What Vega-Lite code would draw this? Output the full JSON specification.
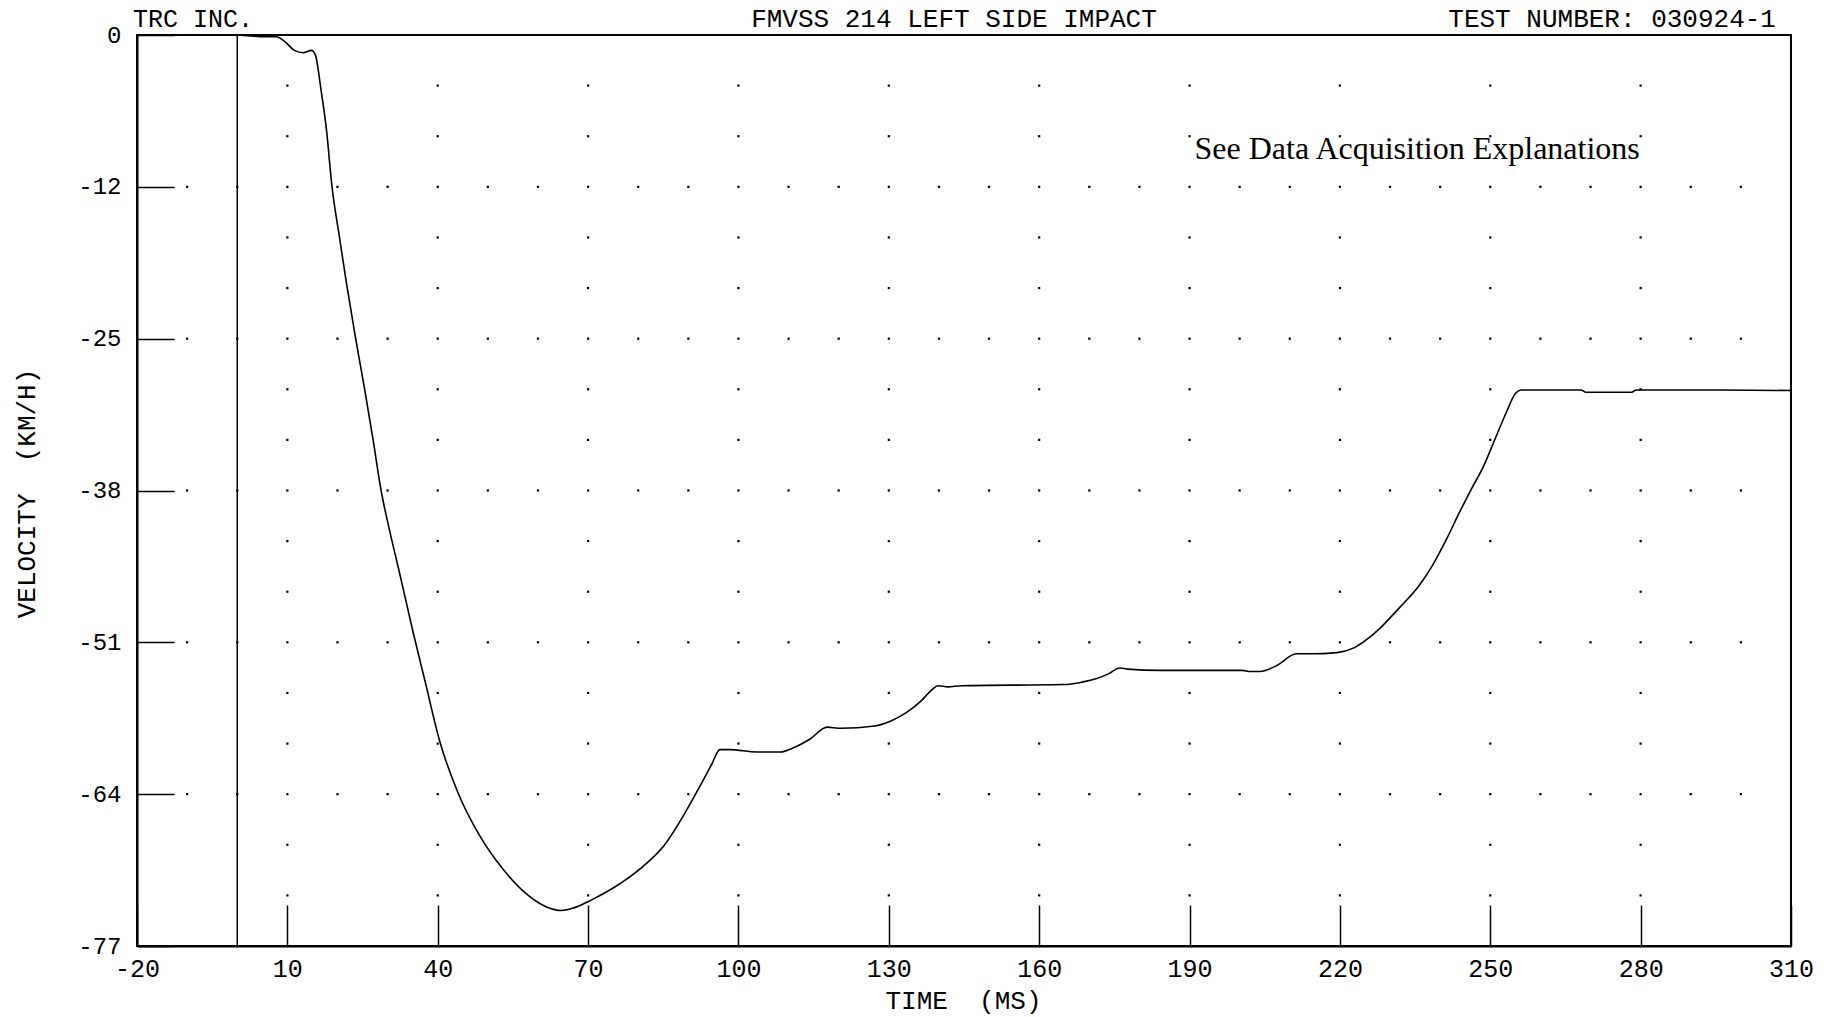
{
  "$schema": "https://vega.github.io/schema/vega-lite/v6.json",
  "width": 1654,
  "height": 911,
  "autosize": {"type": "none"},
  "padding": {"left": 137, "top": 35, "right": 50, "bottom": 71},
  "background": "white",
  "config": {
    "view": {"stroke": "black", "strokeWidth": 2},
    "font": "Liberation Mono"
  },
  "datasets": {
    "curve": [
      {"t": 0, "v": 0}, {"t": 3.3, "v": -0.1}, {"t": 5.1, "v": -0.15}, {"t": 7.8, "v": -0.15},
      {"t": 9.6, "v": -0.6}, {"t": 11.4, "v": -1.3}, {"t": 13.2, "v": -1.5}, {"t": 14.8, "v": -1.3},
      {"t": 15.6, "v": -1.7}, {"t": 16.7, "v": -4.6}, {"t": 17.8, "v": -8.0}, {"t": 18.9, "v": -12.8},
      {"t": 20.4, "v": -17.1}, {"t": 21.8, "v": -21.0}, {"t": 23.6, "v": -25.6}, {"t": 25.4, "v": -29.9},
      {"t": 27.1, "v": -34.2}, {"t": 28.7, "v": -38.5}, {"t": 30.3, "v": -41.7}, {"t": 32.4, "v": -45.5},
      {"t": 35.1, "v": -50.5}, {"t": 37.4, "v": -54.5}, {"t": 40.4, "v": -59.7}, {"t": 44.0, "v": -64.0},
      {"t": 48.4, "v": -67.7}, {"t": 53.0, "v": -70.5}, {"t": 57.7, "v": -72.6}, {"t": 61.7, "v": -73.7},
      {"t": 64.7, "v": -74.0}, {"t": 67.0, "v": -73.8}, {"t": 70.7, "v": -73.1}, {"t": 75.0, "v": -72.1},
      {"t": 80.3, "v": -70.5}, {"t": 85.0, "v": -68.6}, {"t": 89.0, "v": -66.0}, {"t": 92.3, "v": -63.5},
      {"t": 94.6, "v": -61.7}, {"t": 96.3, "v": -60.4}, {"t": 98.3, "v": -60.4}, {"t": 103.6, "v": -60.6},
      {"t": 108.3, "v": -60.6}, {"t": 111.2, "v": -60.2}, {"t": 114.3, "v": -59.5}, {"t": 117.7, "v": -58.5},
      {"t": 120.4, "v": -58.6}, {"t": 127.2, "v": -58.4}, {"t": 130.3, "v": -58.0}, {"t": 133.4, "v": -57.3},
      {"t": 136.4, "v": -56.3}, {"t": 138.7, "v": -55.3}, {"t": 139.8, "v": -55.0}, {"t": 141.8, "v": -55.1},
      {"t": 144.4, "v": -55.0}, {"t": 164.7, "v": -54.9}, {"t": 168.5, "v": -54.7}, {"t": 171.5, "v": -54.4},
      {"t": 173.8, "v": -54.0}, {"t": 176.1, "v": -53.5}, {"t": 177.7, "v": -53.6}, {"t": 184.0, "v": -53.7},
      {"t": 200.5, "v": -53.7}, {"t": 202.2, "v": -53.8}, {"t": 204.0, "v": -53.8}, {"t": 207.4, "v": -53.3},
      {"t": 211.3, "v": -52.3}, {"t": 214.2, "v": -52.3}, {"t": 219.4, "v": -52.2}, {"t": 222.8, "v": -51.8},
      {"t": 227.1, "v": -50.5}, {"t": 231.9, "v": -48.4}, {"t": 235.7, "v": -46.6}, {"t": 238.5, "v": -44.8},
      {"t": 241.4, "v": -42.5}, {"t": 243.8, "v": -40.4}, {"t": 246.2, "v": -38.4}, {"t": 248.6, "v": -36.5},
      {"t": 251.0, "v": -34.1}, {"t": 253.3, "v": -31.8}, {"t": 255.0, "v": -30.3}, {"t": 256.2, "v": -30.0},
      {"t": 268.1, "v": -30.0}, {"t": 269.1, "v": -30.2}, {"t": 278.2, "v": -30.2}, {"t": 279.1, "v": -30.0},
      {"t": 295.8, "v": -30.0}, {"t": 310, "v": -30.05}
    ],
    "major": [
      {"v": -12.8333, "t": [-10,0,10,20,30,40,50,60,70,80,90,100,110,120,130,140,150,160,170,180,190,200,210,220,230,240,250,260,270,280,290,300]},
      {"v": -25.6667, "t": [-10,0,10,20,30,40,50,60,70,80,90,100,110,120,130,140,150,160,170,180,190,200,210,220,230,240,250,260,270,280,290,300]},
      {"v": -38.5, "t": [-10,0,10,20,30,40,50,60,70,80,90,100,110,120,130,140,150,160,170,180,190,200,210,220,230,240,250,260,270,280,290,300]},
      {"v": -51.3333, "t": [-10,0,10,20,30,40,50,60,70,80,90,100,110,120,130,140,150,160,170,180,190,200,210,220,230,240,250,260,270,280,290,300]},
      {"v": -64.1667, "t": [-10,0,10,20,30,40,50,60,70,80,90,100,110,120,130,140,150,160,170,180,190,200,210,220,230,240,250,260,270,280,290,300]}
    ],
    "minor": [
      {"v": -4.2778, "t": [10,40,70,100,130,160,190,220,250,280]},
      {"v": -8.5556, "t": [10,40,70,100,130,160,190,220,250,280]},
      {"v": -17.1111, "t": [10,40,70,100,130,160,190,220,250,280]},
      {"v": -21.3889, "t": [10,40,70,100,130,160,190,220,250,280]},
      {"v": -29.9444, "t": [10,40,70,100,130,160,190,220,250,280]},
      {"v": -34.2222, "t": [10,40,70,100,130,160,190,220,250,280]},
      {"v": -42.7778, "t": [10,40,70,100,130,160,190,220,250,280]},
      {"v": -47.0556, "t": [10,40,70,100,130,160,190,220,250,280]},
      {"v": -55.6111, "t": [10,40,70,100,130,160,190,220,250,280]},
      {"v": -59.8889, "t": [10,40,70,100,130,160,190,220,250,280]},
      {"v": -68.4444, "t": [10,40,70,100,130,160,190,220,250,280]},
      {"v": -72.7222, "t": [10,40,70,100,130,160,190,220,250,280]}
    ]
  },
  "layer": [
    {
      "data": {"name": "curve"},
      "mark": {"type": "line", "color": "black", "strokeWidth": 1.6, "interpolate": "monotone"},
      "encoding": {
        "x": {
          "field": "t", "type": "quantitative",
          "scale": {"domain": [-20, 310], "nice": false, "zero": false},
          "axis": {
            "values": [-20,10,40,70,100,130,160,190,220,250,280,310],
            "labelExpr": "datum.value < 0 ? '-' + (-datum.value) : '' + datum.value",
            "grid": false,
            "tickSize": -41, "tickColor": "black", "tickWidth": 1.5,
            "domainColor": "black", "domainWidth": 2,
            "labelFont": "Liberation Mono", "labelFontSize": 25, "labelColor": "black",
            "labelPadding": 51, "labelFlush": false, "labelOverlap": false,
            "title": "TIME\u00a0\u00a0(MS)", "titleFont": "Liberation Mono", "titleFontSize": 26,
            "titleFontWeight": "normal", "titleColor": "black",
            "titleX": 826, "titleY": 54, "titleAlign": "center", "titleBaseline": "middle"
          }
        },
        "y": {
          "field": "v", "type": "quantitative",
          "scale": {"domain": [-77, 0], "nice": false, "zero": false},
          "axis": {
            "values": [0, -12.833333, -25.666667, -38.5, -51.333333, -64.166667, -77],
            "labelExpr": "datum.value == 0 ? '0' : '-' + floor(-datum.value + 0.0001)",
            "grid": false,
            "tickSize": -37, "tickColor": "black", "tickWidth": 1.5,
            "domainColor": "black", "domainWidth": 2,
            "labelFont": "Liberation Mono", "labelFontSize": 24, "labelColor": "black",
            "labelPadding": 53, "labelFlush": false, "labelOverlap": false,
            "title": "VELOCITY\u00a0\u00a0(KM/H)", "titleFont": "Liberation Mono", "titleFontSize": 26,
            "titleFontWeight": "normal", "titleColor": "black",
            "titleX": -111, "titleY": 458, "titleAlign": "center", "titleBaseline": "middle", "titleAngle": -90
          }
        }
      }
    },
    {
      "data": {"name": "major"},
      "transform": [{"flatten": ["t"]}],
      "mark": {"type": "square", "size": 5, "color": "black", "filled": true, "opacity": 1},
      "encoding": {
        "x": {"field": "t", "type": "quantitative"},
        "y": {"field": "v", "type": "quantitative"}
      }
    },
    {
      "data": {"name": "minor"},
      "transform": [{"flatten": ["t"]}],
      "mark": {"type": "square", "size": 5, "color": "black", "filled": true, "opacity": 1},
      "encoding": {
        "x": {"field": "t", "type": "quantitative"},
        "y": {"field": "v", "type": "quantitative"}
      }
    },
    {
      "data": {"values": [{}]},
      "mark": {"type": "rule", "color": "black", "strokeWidth": 1.5},
      "encoding": {"x": {"datum": 0, "type": "quantitative"}}
    },
    {
      "data": {"values": [{}]},
      "mark": {"type": "text", "text": "TRC INC.", "align": "left", "baseline": "alphabetic", "dx": -4, "dy": -8, "font": "Liberation Mono", "fontSize": 25, "color": "black"},
      "encoding": {"x": {"datum": -20, "type": "quantitative"}, "y": {"datum": 0, "type": "quantitative"}}
    },
    {
      "data": {"values": [{}]},
      "mark": {"type": "text", "text": "FMVSS 214 LEFT SIDE IMPACT", "align": "center", "baseline": "alphabetic", "dy": -8, "font": "Liberation Mono", "fontSize": 26, "color": "black"},
      "encoding": {"x": {"datum": 143, "type": "quantitative"}, "y": {"datum": 0, "type": "quantitative"}}
    },
    {
      "data": {"values": [{}]},
      "mark": {"type": "text", "text": "TEST NUMBER: 030924-1", "align": "right", "baseline": "alphabetic", "dy": -8, "font": "Liberation Mono", "fontSize": 26, "color": "black"},
      "encoding": {"x": {"datum": 307, "type": "quantitative"}, "y": {"datum": 0, "type": "quantitative"}}
    },
    {
      "data": {"values": [{}]},
      "mark": {"type": "text", "text": "See Data Acquisition Explanations", "align": "left", "baseline": "middle", "font": "Liberation Serif", "fontSize": 32, "color": "black"},
      "encoding": {"x": {"datum": 191, "type": "quantitative"}, "y": {"datum": -9.6, "type": "quantitative"}}
    }
  ]
}
